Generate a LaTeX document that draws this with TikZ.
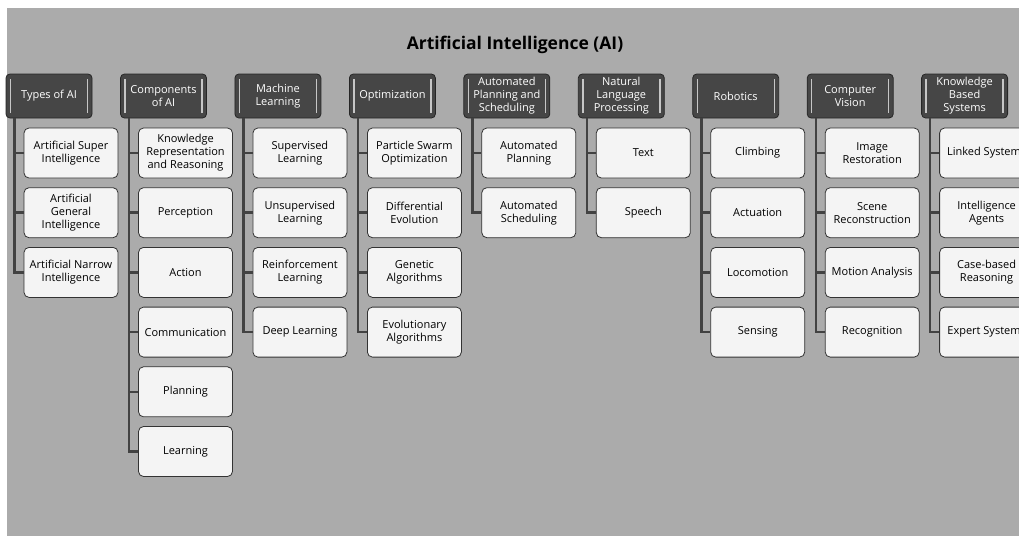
\documentclass[tikz,border=0pt]{standalone}
\usepackage{fontspec}
\setmainfont{Open Sans}
\usepackage{tikz}
\usetikzlibrary{arrows.meta}
\usetikzlibrary{calc}
\usetikzlibrary{shapes}

\definecolor{panelgray}{HTML}{ABABAB}
\definecolor{headfill}{HTML}{464646}
\definecolor{boxfill}{HTML}{F4F4F4}
\definecolor{linegray}{HTML}{424242}

\begin{document}
\begin{tikzpicture}[x=1pt, y=-1pt,
        head_style/.style={draw=black!85, line width=0.8pt, fill=headfill, rounded corners=4pt,
            minimum width=86pt, minimum height=44pt, inner sep=0pt, align=center,
            text=white, font=\fontsize{11}{13}\selectfont,
            path picture={
                \draw[gray!45, line width=1.4pt]
                    ([xshift=4.5pt,yshift=5pt]path picture bounding box.south west)
                 -- ([xshift=4.5pt,yshift=-5pt]path picture bounding box.north west);
                \draw[gray!45, line width=1.4pt]
                    ([xshift=-4.5pt,yshift=5pt]path picture bounding box.south east)
                 -- ([xshift=-4.5pt,yshift=-5pt]path picture bounding box.north east);}},
        item_style/.style={draw=black!80, line width=0.8pt, fill=boxfill, rounded corners=5pt,
            minimum width=94pt, minimum height=50pt, inner sep=0pt, align=center,
            font=\fontsize{11}{13}\selectfont},
        edge_style/.style={draw=linegray, line width=2.5pt}]

        \useasboundingbox (0,0) rectangle (1019,535);
        \clip (0,0) rectangle (1019,535);
        \fill [panelgray] (7,8) rectangle (1030,545);

        \node [font=\bfseries\fontsize{17.5}{20}\selectfont] (title) at (515,45) {Artificial Intelligence (AI)};

        % column headers
        \node [head_style] (h1) at (49,96) {Types of AI};

        \node [head_style] (h2) at (163.5,96) {Components\\of AI};

        \node [head_style] (h3) at (277.9,96) {Machine\\Learning};

        \node [head_style] (h4) at (392.4,96) {Optimization};

        \node [head_style] (h5) at (506.8,96) {Automated\\Planning and\\Scheduling};

        \node [head_style] (h6) at (621.3,96) {Natural\\Language\\Processing};

        \node [head_style] (h7) at (735.7,96) {Robotics};

        \node [head_style] (h8) at (850.2,96) {Computer\\Vision};

        \node [head_style] (h9) at (964.6,96) {Knowledge\\Based\\Systems};

        % items under each header
        \node [item_style] (c11) at (71,153) {Artificial Super\\Intelligence};

        \node [item_style] (c12) at (71,212.7) {Artificial\\General\\Intelligence};

        \node [item_style] (c13) at (71,272.4) {Artificial Narrow\\Intelligence};

        \node [item_style] (c21) at (185.5,153) {Knowledge\\Representation\\and Reasoning};

        \node [item_style] (c22) at (185.5,212.7) {Perception};

        \node [item_style] (c23) at (185.5,272.4) {Action};

        \node [item_style] (c24) at (185.5,332.1) {Communication};

        \node [item_style] (c25) at (185.5,391.8) {Planning};

        \node [item_style] (c26) at (185.5,451.5) {Learning};

        \node [item_style] (c31) at (299.9,153) {Supervised\\Learning};

        \node [item_style] (c32) at (299.9,212.7) {Unsupervised\\Learning};

        \node [item_style] (c33) at (299.9,272.4) {Reinforcement\\Learning};

        \node [item_style] (c34) at (299.9,332.1) {Deep Learning};

        \node [item_style] (c41) at (414.4,153) {Particle Swarm\\Optimization};

        \node [item_style] (c42) at (414.4,212.7) {Differential\\Evolution};

        \node [item_style] (c43) at (414.4,272.4) {Genetic\\Algorithms};

        \node [item_style] (c44) at (414.4,332.1) {Evolutionary\\Algorithms};

        \node [item_style] (c51) at (528.8,153) {Automated\\Planning};

        \node [item_style] (c52) at (528.8,212.7) {Automated\\Scheduling};

        \node [item_style] (c61) at (643.3,153) {Text};

        \node [item_style] (c62) at (643.3,212.7) {Speech};

        \node [item_style] (c71) at (757.7,153) {Climbing};

        \node [item_style] (c72) at (757.7,212.7) {Actuation};

        \node [item_style] (c73) at (757.7,272.4) {Locomotion};

        \node [item_style] (c74) at (757.7,332.1) {Sensing};

        \node [item_style] (c81) at (872.2,153) {Image\\Restoration};

        \node [item_style] (c82) at (872.2,212.7) {Scene\\Reconstruction};

        \node [item_style] (c83) at (872.2,272.4) {Motion Analysis};

        \node [item_style] (c84) at (872.2,332.1) {Recognition};

        \node [item_style] (c91) at (986.6,153) {Linked Systems};

        \node [item_style] (c92) at (986.6,212.7) {Intelligence\\Agents};

        \node [item_style] (c93) at (986.6,272.4) {Case-based\\Reasoning};

        \node [item_style] (c94) at (986.6,332.1) {Expert Systems};

        % elbow connectors from each header down to its items
        \foreach \h/\c in {h1/c11,h1/c12,h1/c13,
                h2/c21,h2/c22,h2/c23,h2/c24,h2/c25,h2/c26,
                h3/c31,h3/c32,h3/c33,h3/c34,
                h4/c41,h4/c42,h4/c43,h4/c44,
                h5/c51,h5/c52,
                h6/c61,h6/c62,
                h7/c71,h7/c72,h7/c73,h7/c74,
                h8/c81,h8/c82,h8/c83,h8/c84,
                h9/c91,h9/c92,h9/c93,h9/c94}
            \draw [edge_style] (\h.south west) ++(9,0) |- (\c.west);

        \end{tikzpicture}
\end{document}
